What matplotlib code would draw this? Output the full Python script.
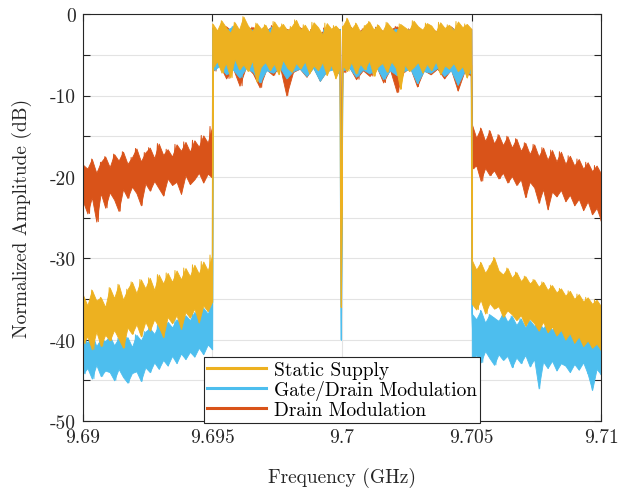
import numpy as np
import matplotlib.pyplot as plt
from matplotlib.lines import Line2D

plt.rcParams['font.family'] = ['cmr10', 'DejaVu Serif']
plt.rcParams['mathtext.fontset'] = 'cm'
plt.rcParams['axes.unicode_minus'] = False

# band edges / carrier notch (GHz)
f_start, f_lo, f_notch, f_hi, f_stop = 9.690, 9.695, 9.69996, 9.705, 9.710

drain_left = [-18.5, -23.0, -19.0, -24.5, -17.8, -22.5, -19.5, -25.5, -18.2, -22.0, -17.5, -23.8,
              -18.8, -21.9, -17.2, -22.8, -18.0, -24.2, -16.9, -21.5, -18.4, -22.6, -17.6, -21.2,
              -16.5, -22.0, -18.1, -23.5, -17.0, -20.8, -16.4, -21.7, -17.7, -20.5, -15.9, -21.4,
              -17.3, -22.3, -16.6, -20.2, -17.5, -21.0, -16.0, -20.6, -16.8, -22.1, -15.7, -19.8,
              -16.9, -20.9, -15.5, -20.3, -16.3, -19.5, -14.9, -20.7, -15.8, -19.6, -13.8, -20.1]
drain_right = [-13.5, -19.0, -15.2, -18.6, -14.0, -20.5, -15.6, -18.9, -14.3, -19.8, -15.9, -19.2,
               -14.8, -20.2, -16.1, -19.5, -15.0, -20.7, -16.4, -19.9, -15.3, -21.0, -16.8, -20.3,
               -15.8, -22.5, -17.2, -20.6, -16.0, -21.3, -17.5, -23.2, -16.4, -21.5, -17.9, -24.0,
               -16.7, -21.8, -18.1, -22.4, -16.9, -21.6, -18.4, -23.0, -17.4, -22.2, -18.6, -23.5,
               -17.8, -22.7, -19.0, -24.1, -18.2, -23.0, -19.3, -24.6, -18.6, -23.8, -19.6, -25.4]
drain_band1 = [-1.7, -7.0, -2.4, -6.2, -1.5, -7.9, -2.2, -6.6, -2.6, -8.8, -1.9, -6.4,
               -1.6, -7.3, -2.3, -9.0, -2.0, -6.8, -1.4, -7.5, -2.5, -6.3, -1.8, -10.0,
               -2.1, -7.1, -1.6, -6.7, -2.3, -7.7, -1.9, -6.5, -2.4, -8.2, -1.7, -7.0,
               -2.0, -6.6, -1.8, -7.4]
drain_band2 = [-1.9, -7.2, -1.4, -6.5, -2.3, -8.0, -1.8, -6.9, -2.5, -7.6, -1.6, -6.4,
               -2.1, -8.4, -1.9, -6.8, -1.5, -9.6, -2.2, -7.1, -1.8, -6.6, -2.4, -8.9,
               -2.0, -6.9, -1.7, -7.4, -2.2, -6.7, -1.9, -7.9, -1.5, -6.8, -2.3, -9.4,
               -1.9, -7.0, -1.8, -7.6]
drain_notch = -18.5

static_left = [-34.5, -40.5, -35.8, -39.6, -33.9, -41.2, -35.2, -39.0, -34.8, -40.8, -36.0, -39.4,
               -33.6, -40.1, -34.9, -38.8, -33.2, -39.9, -35.1, -41.0, -33.8, -38.5, -32.9, -39.3,
               -34.3, -38.1, -32.6, -39.6, -33.7, -37.8, -32.4, -38.9, -33.9, -37.5, -32.0, -38.4,
               -33.1, -39.7, -31.8, -37.2, -32.9, -38.0, -31.5, -37.0, -32.6, -38.7, -31.2, -36.6,
               -32.2, -37.3, -30.8, -36.2, -31.9, -37.9, -30.4, -35.8, -31.5, -36.5, -29.6, -35.3]
static_right = [-30.2, -35.6, -31.4, -36.3, -30.5, -35.1, -31.8, -36.8, -30.9, -35.5, -29.9, -36.2,
                -31.5, -35.9, -32.0, -37.2, -31.2, -36.4, -32.4, -36.9, -31.7, -37.6, -32.8, -37.0,
                -32.2, -38.3, -33.1, -37.4, -32.6, -38.0, -33.5, -38.9, -32.9, -37.8, -33.9, -39.1,
                -33.3, -38.4, -34.2, -39.5, -33.7, -38.8, -34.6, -40.0, -34.0, -39.2, -35.0, -40.4,
                -34.4, -39.6, -35.3, -40.8, -34.8, -40.1, -35.6, -41.0, -35.1, -40.5, -35.9, -41.3]
static_band1 = [-1.2, -6.5, -2.0, -5.8, -0.8, -7.2, -1.6, -6.0, -2.3, -7.8, -1.0, -5.5,
                -1.9, -6.8, -0.3, -6.2, -1.4, -7.0, -2.1, -5.7, -1.1, -8.3, -1.8, -6.4,
                -1.3, -5.9, -2.4, -6.9, -0.9, -6.1, -1.7, -7.4, -1.2, -5.6, -2.0, -6.6,
                -1.5, -7.1, -0.7, -6.0, -1.9, -6.7, -1.3, -5.8, -2.2, -7.3, -1.0, -6.3,
                -1.6, -6.9, -2.5, -5.9, -1.1, -7.5, -1.8, -6.2, -1.4, -7.9, -2.0, -6.5]
static_band2 = [-1.5, -6.3, -0.5, -7.0, -1.8, -5.9, -1.1, -7.3, -2.2, -6.1, -1.4, -6.8,
                -0.9, -5.7, -1.9, -7.6, -1.3, -6.4, -2.1, -6.0, -1.0, -7.1, -1.7, -5.8,
                -2.3, -6.6, -1.2, -9.2, -1.6, -6.2, -2.0, -7.0, -0.8, -6.5, -1.5, -5.9,
                -1.9, -7.2, -1.1, -6.1, -1.4, -6.9, -2.2, -5.8, -1.0, -7.4, -1.7, -6.3,
                -1.3, -6.7, -2.0, -6.0, -0.9, -7.0, -1.6, -6.4, -1.2, -7.8, -1.8, -6.2]
static_notch = -36.0

gd_left = [-39.6, -44.2, -40.4, -43.5, -39.2, -44.8, -40.8, -43.1, -39.9, -44.5, -40.2, -43.8,
           -39.5, -44.0, -40.7, -45.0, -39.8, -43.6, -40.3, -44.6, -39.7, -45.3, -40.9, -44.1,
           -39.4, -43.9, -40.1, -45.1, -39.0, -43.4, -38.6, -44.0, -39.3, -42.8, -38.2, -43.6,
           -38.9, -42.5, -37.8, -43.2, -38.5, -42.0, -37.5, -42.9, -38.1, -41.7, -37.0, -42.4,
           -37.6, -41.5, -36.6, -42.1, -37.2, -41.0, -36.1, -41.8, -36.8, -40.6, -35.4, -41.2]
gd_right = [-36.8, -42.6, -37.5, -41.9, -36.4, -42.8, -37.9, -41.4, -36.9, -42.3, -37.3, -43.1,
            -37.7, -41.8, -36.7, -42.5, -37.8, -42.0, -37.1, -43.4, -38.2, -42.2, -37.4, -42.9,
            -38.5, -41.9, -37.6, -43.3, -38.3, -42.4, -37.9, -46.0, -38.6, -42.7, -37.8, -43.5,
            -38.8, -42.6, -38.1, -43.8, -38.9, -42.9, -38.3, -43.2, -39.1, -44.0, -38.4, -43.0,
            -39.0, -43.7, -38.2, -42.8, -39.3, -44.2, -38.5, -46.2, -39.2, -43.6, -38.7, -44.3]
gd_band1 = [-1.8, -6.9, -2.4, -6.4, -2.0, -7.4, -1.5, -6.8, -2.6, -7.8, -2.1, -6.6,
            -1.9, -7.1, -2.3, -8.4, -2.0, -6.9, -1.6, -7.2, -2.5, -6.5, -1.9, -7.9,
            -2.2, -7.0, -1.8, -6.7, -2.4, -7.6, -2.1, -6.6, -2.6, -8.2, -1.9, -7.0,
            -2.2, -6.8, -1.8, -7.3]
gd_band2 = [-1.9, -6.9, -1.5, -6.6, -2.4, -7.7, -2.0, -6.8, -2.5, -7.3, -1.7, -6.5,
            -2.2, -8.0, -2.0, -6.9, -1.8, -7.5, -2.3, -7.0, -1.9, -6.7, -2.5, -8.5,
            -2.1, -7.0, -1.8, -7.2, -2.3, -6.6, -1.9, -7.6, -1.6, -6.9, -2.3, -8.7,
            -2.0, -7.0, -1.9, -7.3]
gd_notch = -40.0

colors = {'static': '#EDB120', 'gd': '#4DBEEE', 'drain': '#D95319'}


def build_trace(left, band1, notch, band2, right):
    """Lay the pieces of one trace on the frequency axis.
    Returns the zigzag (f, a) and the peak/trough envelope (fp, hi, lo)."""
    step = 0.00001
    spans = [(left, f_start, f_lo - step),
             (band1, f_lo + step, f_notch - 4 * step),
             ([notch, notch], f_notch, f_notch),
             (band2, f_notch + 6 * step, f_hi - step),
             (right, f_hi + step, f_stop)]
    f, a, fp, hi, lo = [], [], [], [], []
    for vals, x0, x1 in spans:
        vals = np.asarray(vals, dtype=float)
        f.append(np.linspace(x0, x1, len(vals)))
        a.append(vals)
        fp.append(np.linspace(x0, x1, len(vals) // 2))
        hi.append(vals[0::2])
        lo.append(vals[1::2])
    return (np.concatenate(f), np.concatenate(a),
            np.concatenate(fp), np.concatenate(hi), np.concatenate(lo))


fig = plt.figure(figsize=(6.19, 4.89), dpi=100)
ax = fig.add_axes([0.134, 0.137, 0.837, 0.832])

traces = [('drain', (drain_left, drain_band1, drain_notch, drain_band2, drain_right)),
          ('gd', (gd_left, gd_band1, gd_notch, gd_band2, gd_right)),
          ('static', (static_left, static_band1, static_notch, static_band2, static_right))]
for key, parts in traces:
    f, a, fp, hi, lo = build_trace(*parts)
    c = colors[key]
    ax.fill_between(fp, lo, hi, color=c, lw=0.6, zorder=2)
    ax.plot(f, a, color=c, lw=0.7, zorder=2)

ax.set_xlim(9.69, 9.71)
ax.set_ylim(-50, 0)
ax.set_xticks([9.69, 9.695, 9.7, 9.705, 9.71])
ax.set_xticklabels(['9.69', '9.695', '9.7', '9.705', '9.71'])
yt = list(range(-50, 1, 5))
ax.set_yticks(yt)
ax.set_yticklabels([str(v) if v % 10 == 0 else '' for v in yt])
ax.tick_params(direction='in', length=5, width=0.8, top=True, right=True,
               labelsize=14, colors='#262626', pad=5)
for s in ax.spines.values():
    s.set_color('#262626')
    s.set_linewidth(0.8)
ax.grid(True, color='#e3e3e3', lw=0.8)
ax.set_axisbelow(True)

ax.set_xlabel('Frequency (GHz)', fontsize=14, color='#262626', labelpad=15)
ax.set_ylabel('Normalized Amplitude (dB)', fontsize=14, color='#262626', labelpad=13)

handles = [Line2D([], [], color=colors['static'], lw=2.2),
           Line2D([], [], color=colors['gd'], lw=2.2),
           Line2D([], [], color=colors['drain'], lw=2.2)]
leg = ax.legend(handles, ['Static Supply', 'Gate/Drain Modulation', 'Drain Modulation'],
                loc='lower center', bbox_to_anchor=(0.5, -0.005), fontsize=14,
                fancybox=False, framealpha=1, edgecolor='#262626', borderpad=0.2,
                handlelength=3.0, handletextpad=0.4, labelspacing=0.05, borderaxespad=0)
leg.get_frame().set_linewidth(0.8)

fig.savefig('out.png', dpi=100)
